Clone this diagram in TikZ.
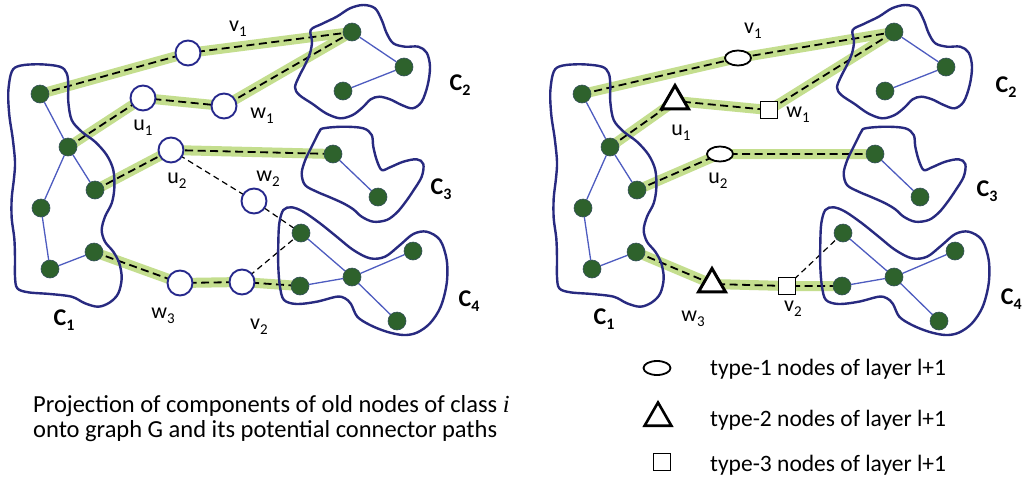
\documentclass[tikz,border=0pt]{standalone}
\usepackage{fontspec}
\setmainfont{Carlito}
\newfontfamily\serifit{Liberation Serif}
\usetikzlibrary{shapes.geometric}

\definecolor{blobline}{RGB}{40,42,128}
\definecolor{edgeblue}{RGB}{78,92,192}
\definecolor{nodegreen}{RGB}{46,98,44}
\definecolor{nodering}{RGB}{52,80,90}
\definecolor{band}{RGB}{196,222,142}
\definecolor{ringblue}{RGB}{38,40,140}

\pgfdeclarelayer{bg}
\pgfdeclarelayer{mid}
\pgfsetlayers{bg,mid,main}

% subscripted labels
\newcommand\sub[2]{#1\raisebox{-0.45ex}{\fontsize{15}{15}\selectfont #2}}
\newcommand\csub[2]{\textbf{#1\raisebox{-0.45ex}{\fontsize{16}{16}\selectfont #2}}}

\tikzset{
  gnode/.style={circle, fill=nodegreen, draw=nodering, line width=0.6pt, minimum size=18pt, inner sep=0pt},
  wnode/.style={circle, draw=ringblue, line width=1.9pt, fill=white, minimum size=25pt, inner sep=0pt},
  ovalnode/.style={ellipse, draw=black, line width=1.8pt, fill=white, minimum width=26pt, minimum height=15pt, inner sep=0pt},
  trinode/.style={regular polygon, regular polygon sides=3, draw=black, line width=3pt, fill=white, minimum size=31pt, inner sep=0pt},
  sqnode/.style={rectangle, draw=black, line width=1.7pt, fill=white, minimum size=17pt, inner sep=0pt},
  blob/.style={draw=blobline, line width=2.4pt},
  cedge/.style={draw=edgeblue, line width=1.3pt},
  bandline/.style={draw=band, line width=10pt, line join=round},
  dashline/.style={draw=black, line width=1.8pt, dash pattern=on 8pt off 4.5pt},
  thindash/.style={draw=black, line width=1.2pt, dash pattern=on 6pt off 4pt},
  lbl/.style={font=\fontsize{22}{22}\selectfont, inner sep=0pt},
  clbl/.style={font=\fontsize{24}{24}\selectfont, inner sep=0pt},
  txt/.style={font=\fontsize{23.5}{23.5}\selectfont, inner sep=0pt, anchor=base west},
}

% the four components C1..C4 with their internal nodes and edges
\newcommand\components{%
  \begin{pgfonlayer}{mid}
    \draw[blob] plot[smooth cycle, tension=0.55] coordinates {
      (11.7,71.7) (20,65.7) (40,64.3) (60,66.7) (66.7,73.3) (68.3,85) (68.3,101.7)
      (71.7,120) (81.7,131.7) (95,141.7) (106.7,155) (113.3,170) (114.3,188.3)
      (111.7,203.3) (105,216.7) (101.7,230) (105,241.7) (113.3,251.7) (119.3,263.3)
      (121.7,278.3) (118.3,293.3) (110,302.3) (98.3,306.7) (85,303.3) (71.7,296.7)
      (50,294) (28.3,292.3) (17.3,288.3) (15,276.7) (15,258.3) (14.3,238.3)
      (11.7,218.3) (11.7,198.3) (14,178.3) (15,161.7) (12.7,138.3) (9.3,115) (8.3,91.7)};
    \draw[blob] plot[smooth cycle, tension=0.55] coordinates {
      (295,87.3) (299.3,76) (305,65) (310,53.3) (312,41.7) (310.7,30) (321.7,24)
      (336.7,16.7) (350,8.3) (363.3,5) (375,8.3) (381.7,20) (386.7,33.3) (393.3,43.3)
      (405,46.7) (418.3,46.7) (426.7,52.7) (430,66.7) (427.7,85) (421.7,101.7)
      (412.7,108.3) (401.7,105) (390,99.3) (379.3,96.7) (370.7,99.3) (362.7,107.3)
      (352.7,115) (340,118.3) (326,113.3) (312.7,104) (299.3,95)};
    \draw[blob] plot[smooth cycle, tension=0.55] coordinates {
      (323.3,128.3) (343.3,126.7) (363.3,128.3) (371.7,135) (373.3,146.7) (376.7,160)
      (381.7,170) (390,167.3) (403.3,161.7) (416.7,159.3) (423.3,164) (421.7,176.7)
      (413.3,190.7) (405,202.7) (396.7,212.7) (386.7,220) (373.3,221.7) (361.7,216.7)
      (353.3,209.3) (343.3,203.3) (330,197.3) (316.7,191.7) (305,185) (301.7,173.3)
      (305,160.7) (310,150) (315,140) (319.3,131.7)};
    \draw[blob] plot[smooth cycle, tension=0.55] coordinates {
      (283.3,210) (291.7,207.3) (303.3,211.7) (320,223.3) (336.7,236.7) (353.3,250)
      (370,258.3) (385,256.7) (400,245) (413.3,234) (426.7,231.7) (440,240)
      (446.7,260) (446.7,283.3) (440.7,306.7) (430,323.3) (416.7,332.7) (403.3,335)
      (386.7,331.7) (370,325) (357.3,316.7) (351,304) (345,298.3) (336.7,296.7)
      (316.7,301.7) (296.7,304) (284,300) (280,286.7) (278.3,266.7) (278.3,243.3)
      (279.3,223.3)};
  \end{pgfonlayer}
  % component C1
  \node[gnode] (a1) at (40,94) {};
  \node[gnode] (a2) at (68,147) {};
  \node[gnode] (a3) at (95,190) {};
  \node[gnode] (a4) at (41,208) {};
  \node[gnode] (a5) at (94,252) {};
  \node[gnode] (a6) at (50,269) {};
  % component C2
  \node[gnode] (c2a) at (352,32) {};
  \node[gnode] (c2b) at (404,67) {};
  \node[gnode] (c2c) at (343,91) {};
  % component C3
  \node[gnode] (c3a) at (333,154) {};
  \node[gnode] (c3b) at (378,197) {};
  % component C4
  \node[gnode] (c4a) at (301,233) {};
  \node[gnode] (c4b) at (300,286) {};
  \node[gnode] (c4c) at (352,277) {};
  \node[gnode] (c4d) at (413,251) {};
  \node[gnode] (c4e) at (397,321) {};
  \begin{pgfonlayer}{mid}
    \draw[cedge] (a1) -- (a2);
    \draw[cedge] (a2) -- (a3);
    \draw[cedge] (a2) -- (a4);
    \draw[cedge] (a4) -- (a6);
    \draw[cedge] (a6) -- (a5);
    \draw[cedge] (c2a) -- (c2b);
    \draw[cedge] (c2b) -- (c2c);
    \draw[cedge] (c3a) -- (c3b);
    \draw[cedge] (c4a) -- (c4c);
    \draw[cedge] (c4b) -- (c4c);
    \draw[cedge] (c4c) -- (c4d);
    \draw[cedge] (c4c) -- (c4e);
  \end{pgfonlayer}
}

\begin{document}
\begin{tikzpicture}[x=1pt, y=-1pt]
  \begin{pgfonlayer}{bg}
    \fill[white] (0,0) rectangle (1023,480);
  \end{pgfonlayer}
  \useasboundingbox (0,0) rectangle (1023,480);

  % ---------------- left panel ----------------
  \begin{scope}[name prefix=L-]
    \components
  \end{scope}
  \node[wnode] (v1) at (188,53) {};
  \node[wnode] (u1) at (143,98) {};
  \node[wnode] (w1) at (224,106) {};
  \node[wnode] (u2) at (171,150) {};
  \node[wnode] (w2) at (254,201) {};
  \node[wnode] (w3) at (180,283) {};
  \node[wnode] (v2) at (242,282) {};

  \begin{pgfonlayer}{bg}
    \draw[bandline] (L-a1.center) -- (v1.center) -- (L-c2a.center);
    \draw[bandline] (L-a2.center) -- (u1.center) -- (w1.center) -- (L-c2a.center);
    \draw[bandline] (L-a3.center) -- (u2.center) -- (L-c3a.center);
    \draw[bandline] (L-a5.center) -- (w3.center) -- (v2.center) -- (L-c4b.center);
    \draw[dashline] (L-a1.center) -- (v1.center) -- (L-c2a.center);
    \draw[dashline] (L-a2.center) -- (u1.center) -- (w1.center) -- (L-c2a.center);
    \draw[dashline] (L-a3.center) -- (u2.center) -- (L-c3a.center);
    \draw[dashline] (L-a5.center) -- (w3.center) -- (v2.center) -- (L-c4b.center);
    \draw[thindash] (u2.center) -- (w2.center) -- (L-c4a.center);
    \draw[thindash] (v2.center) -- (L-c4a.center);
  \end{pgfonlayer}

  \node[lbl] (lv1) at (238,29) {\sub{v}{1}};
  \node[lbl] (lu1) at (143,128) {\sub{u}{1}};
  \node[lbl] (lw1) at (262,116) {\sub{w}{1}};
  \node[lbl] (lu2) at (177,181) {\sub{u}{2}};
  \node[lbl] (lw2) at (268,179) {\sub{w}{2}};
  \node[lbl] (lw3) at (163,316) {\sub{w}{3}};
  \node[lbl] (lv2) at (259,327) {\sub{v}{2}};
  \node[clbl] (lc1) at (64,320) {\csub{C}{1}};
  \node[clbl] (lc2) at (460,85) {\csub{C}{2}};
  \node[clbl] (lc3) at (441,189) {\csub{C}{3}};
  \node[clbl] (lc4) at (469,301) {\csub{C}{4}};

  \node[txt, font=\fontsize{24.5}{24.5}\selectfont] (cap1) at (33,412) {Projection of components of old nodes of class {\serifit\itshape i}};
  \node[txt, font=\fontsize{24.5}{24.5}\selectfont] (cap2) at (33,437) {onto graph G and its potential connector paths};

  % ---------------- right panel ----------------
  \begin{scope}[name prefix=R-, xshift=542pt]
    \components
  \end{scope}
  \node[ovalnode] (rv1) at (738,58) {};
  \node[trinode]  (ru1) at (675,101) {};
  \node[sqnode]   (rw1) at (769,110) {};
  \node[ovalnode] (ru2) at (720,154) {};
  \node[trinode]  (rw3) at (712,284) {};
  \node[sqnode]   (rv2) at (787,286) {};

  \begin{pgfonlayer}{bg}
    \draw[bandline] (R-a1.center) -- (rv1.center) -- (R-c2a.center);
    \draw[bandline] (R-a2.center) -- (ru1.center) -- (rw1.center) -- (R-c2a.center);
    \draw[bandline] (R-a3.center) -- (ru2.center) -- (R-c3a.center);
    \draw[bandline] (R-a5.center) -- (rw3.center) -- (rv2.center) -- (R-c4b.center);
    \draw[dashline] (R-a1.center) -- (rv1.center) -- (R-c2a.center);
    \draw[dashline] (R-a2.center) -- (ru1.center) -- (rw1.center) -- (R-c2a.center);
    \draw[dashline] (R-a3.center) -- (ru2.center) -- (R-c3a.center);
    \draw[dashline] (R-a5.center) -- (rw3.center) -- (rv2.center) -- (R-c4b.center);
    \draw[thindash] (rv2.center) -- (R-c4a.center);
  \end{pgfonlayer}

  \node[lbl] (rlv1) at (753,31) {\sub{v}{1}};
  \node[lbl] (rlu1) at (681,133) {\sub{u}{1}};
  \node[lbl] (rlw1) at (798,115) {\sub{w}{1}};
  \node[lbl] (rlu2) at (718,181) {\sub{u}{2}};
  \node[lbl] (rlw3) at (693,319) {\sub{w}{3}};
  \node[lbl] (rlv2) at (793,309) {\sub{v}{2}};
  \node[clbl] (rlc1) at (604,319) {\csub{C}{1}};
  \node[clbl] (rlc2) at (1006,87) {\csub{C}{2}};
  \node[clbl] (rlc3) at (987,191) {\csub{C}{3}};
  \node[clbl, anchor=east] (rlc4) at (1022,299) {\csub{C}{4}};

  % legend
  \node[ovalnode, minimum width=27pt, minimum height=14pt] (k1) at (657,368) {};
  \node[trinode, line width=2.6pt] (k2) at (658,418) {};
  \node[sqnode] (k3) at (662,462) {};
  \node[txt] (t1) at (710,375) {type-1 nodes of layer l+1};
  \node[txt] (t2) at (710,426) {type-2 nodes of layer l+1};
  \node[txt] (t3) at (710,471) {type-3 nodes of layer l+1};
\end{tikzpicture}
\end{document}
